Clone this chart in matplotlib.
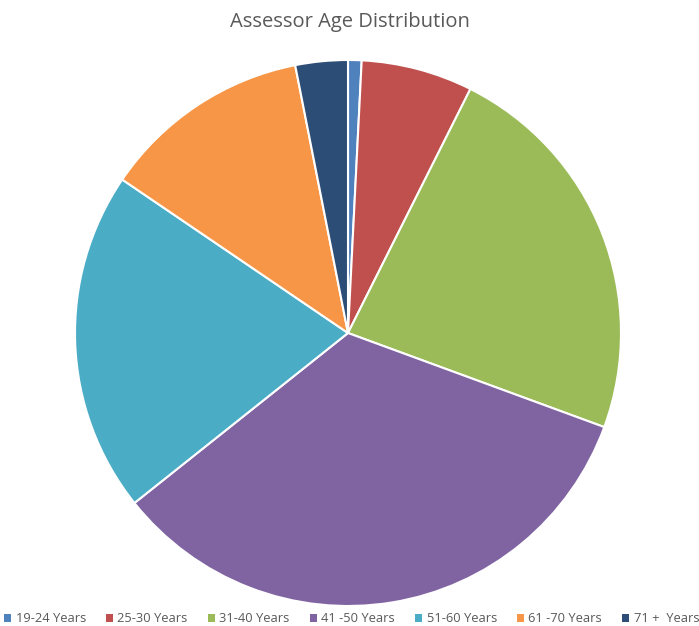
import numpy as np
import matplotlib as mpl
import matplotlib.pyplot as plt
mpl.use('agg')

## data (percent)
age_groups = ['19-24 Years', '25-30 Years', '31-40 Years', '41 -50 Years',
              '51-60 Years', '61 -70 Years', '71 +  Years']
shares = [0.8, 6.6, 23.2, 33.7, 20.2, 12.4, 3.1]
colors = ['#4F81BD', '#C0504D', '#9BBB59', '#8064A2', '#4BACC6', '#F79646', '#2C4D75']

plt.rcParams['font.family'] = ['Open Sans', 'DejaVu Sans']

fig = plt.figure(figsize=(6.99, 6.26), dpi=100)

## pie centre ~ (348,333) px, radius ~273 px
cx, cy, r = 348, 333, 273
ax = fig.add_axes([(cx - r) / 699, (626 - cy - r) / 626, 2 * r / 699, 2 * r / 626])
wedges, _ = ax.pie(shares, colors=colors, startangle=90, counterclock=False,
                   wedgeprops=dict(edgecolor='white', linewidth=1.5))
ax.set_xlim(-1, 1)
ax.set_ylim(-1, 1)
ax.set_aspect('auto')
ax.axis('off')

fig.text(0.5, 1 - 22 / 626, 'Assessor Age Distribution', ha='center', va='center',
         fontsize=14.5, color='#595959')

handles = [mpl.patches.Patch(facecolor=c, edgecolor='none') for c in colors]
fig.legend(handles, age_groups, loc='center', bbox_to_anchor=(0.503, 1 - 619 / 626),
           ncol=7, frameon=False, fontsize=9.3, labelcolor='#595959',
           handlelength=0.55, handleheight=0.55, handletextpad=0.35, columnspacing=1.55,
           borderaxespad=0)

fig.savefig('out.png', dpi=100)
